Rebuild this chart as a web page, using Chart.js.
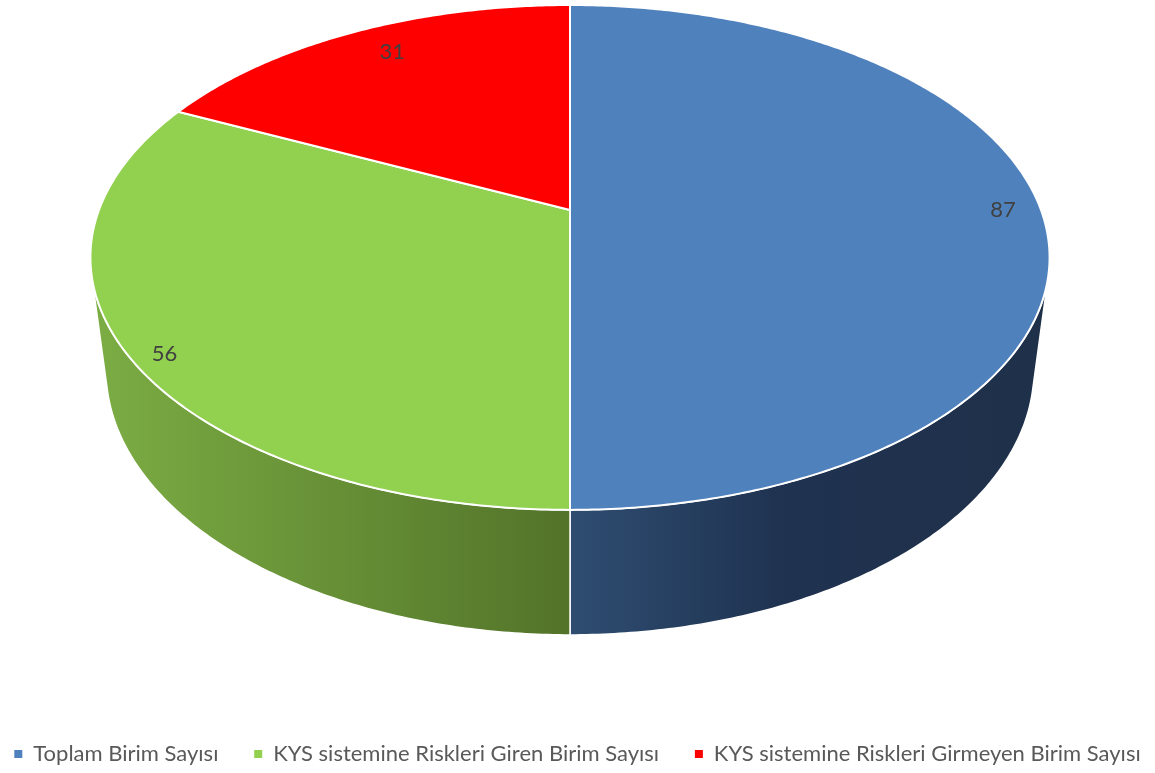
<!DOCTYPE html>
<html>
<head>
<meta charset="utf-8">
<script src="https://cdn.jsdelivr.net/npm/chart.js@4.4.1/dist/chart.umd.min.js"></script>
<style>
  html, body { margin: 0; padding: 0; background: #fff; overflow: hidden; }
  #wrap { width: 1155px; height: 775px; position: relative; }
</style>
</head>
<body>
<div id="wrap"><canvas id="pie"></canvas></div>
<script>
/* --- Données --- */
const categories = ['Toplam Birim Sayısı', 'KYS sistemine Riskleri Giren Birim Sayısı', 'KYS sistemine Riskleri Girmeyen Birim Sayısı'];
const values = [87, 56, 31];
const topColors = ['#4f81bd', '#92d050', '#ff0000'];
const wallStops = [
    [[0, '#2e4d71'], [0.45, '#1f3250'], [1, '#1f3049']],
    [[0, '#7cad44'], [1, '#527329']],
    [[0, '#b00000'], [1, '#800000']]
];

const FONT = 'Lato, "Open Sans", sans-serif';

/* --- Projection 3D (unités : rayon = 1) --- */
const TILT_SIN = 0.517, TILT_COS = 0.856;
const DIST = 4.554;          // distance caméra / rayon
const FOCAL = 2145;          // px
const DEPTH = 0.286;         // épaisseur du camembert
const TOP_OFFSET = 210;      // centre de la face supérieure, depuis le haut de la zone
const SHIFT_X = -7.5;        // décalage horizontal du camembert

function project(cx, cy, theta, r, depth) {
    const u = r * Math.sin(theta);
    const v = -r * Math.cos(theta);
    const z = DIST - v * TILT_COS + depth * TILT_SIN;
    const y = v * TILT_SIN + depth * TILT_COS;
    return { x: cx + FOCAL * u / z, y: cy + FOCAL * y / z };
}

function edgePath(ctx, cx, cy, a0, a1, r, depth, first) {
    const steps = Math.max(2, Math.ceil(Math.abs(a1 - a0) / 0.01));
    for (let i = 0; i <= steps; i++) {
        const p = project(cx, cy, a0 + (a1 - a0) * i / steps, r, depth);
        if (i === 0 && first) ctx.moveTo(p.x, p.y); else ctx.lineTo(p.x, p.y);
    }
}

const pie3d = {
    id: 'pie3d',
    beforeDatasetsDraw(chart) {
        const { ctx, chartArea } = chart;
        const arcs = chart.getDatasetMeta(0).data;
        const cx = arcs[0].x + SHIFT_X;
        const cy = chartArea.top + TOP_OFFSET;
        // partie visible de la paroi : cos(theta) < -1/(DIST*cos)
        const lim = Math.acos(-1 / (DIST * TILT_COS));
        const visFrom = lim, visTo = 2 * Math.PI - lim;

        ctx.save();
        ctx.lineJoin = 'round';

        // parois
        arcs.forEach((arc, i) => {
            const a0 = Math.max(arc.startAngle + Math.PI / 2, visFrom);
            const a1 = Math.min(arc.endAngle + Math.PI / 2, visTo);
            if (a1 <= a0) return;
            const pA = project(cx, cy, a0, 1, 0), pB = project(cx, cy, a1, 1, 0);
            const pC = project(cx, cy, a0, 1, DEPTH), pD = project(cx, cy, a1, 1, DEPTH);
            const xMin = Math.min(pA.x, pB.x, pC.x, pD.x), xMax = Math.max(pA.x, pB.x, pC.x, pD.x);
            const grad = ctx.createLinearGradient(xMin, 0, xMax, 0);
            wallStops[i].forEach(([o, c]) => grad.addColorStop(o, c));
            ctx.beginPath();
            edgePath(ctx, cx, cy, a0, a1, 1, 0, true);
            edgePath(ctx, cx, cy, a1, a0, 1, DEPTH, false);
            ctx.closePath();
            ctx.fillStyle = grad;
            ctx.fill();
            ctx.strokeStyle = '#ffffff';
            ctx.lineWidth = 1.5;
            ctx.stroke();
        });

        // faces supérieures
        arcs.forEach((arc, i) => {
            const a0 = arc.startAngle + Math.PI / 2, a1 = arc.endAngle + Math.PI / 2;
            ctx.beginPath();
            ctx.moveTo(cx, cy);
            edgePath(ctx, cx, cy, a0, a1, 1, 0, false);
            ctx.closePath();
            ctx.fillStyle = topColors[i];
            ctx.fill();
            ctx.strokeStyle = '#ffffff';
            ctx.lineWidth = 2;
            ctx.stroke();
        });

        // étiquettes de valeurs
        ctx.font = '22px ' + FONT;
        ctx.fillStyle = '#404040';
        ctx.textAlign = 'center';
        ctx.textBaseline = 'middle';
        arcs.forEach((arc, i) => {
            const mid = (arc.startAngle + arc.endAngle) / 2 + Math.PI / 2;
            const e = project(cx, cy, mid, 1, 0);
            const lx = e.x - 38 * Math.sign(Math.sin(mid));
            const ly = e.y + 24 * Math.max(0, Math.cos(mid));
            ctx.fillText(String(values[i]), lx, ly);
        });
        ctx.restore();
        return false;
    }
};

const pieLegendLabels = Chart.overrides.pie.plugins.legend.labels.generateLabels;

new Chart(document.getElementById('pie'), {
    type: 'pie',
    data: {
        labels: categories,
        datasets: [{ data: values, backgroundColor: topColors, borderWidth: 0 }]
    },
    options: {
        animation: false,
        responsive: true,
        maintainAspectRatio: false,
        plugins: {
            tooltip: { enabled: false },
            legend: {
                position: 'bottom',
                labels: {
                    boxWidth: 8,
                    boxHeight: 8,
                    padding: 0,
                    color: '#595959',
                    font: { family: FONT, size: 22 },
                    // espacement entre les entrées (évite le retour à la ligne)
                    generateLabels(chart) {
                        const items = pieLegendLabels(chart);
                        items.forEach((it, i) => {
                            it.lineWidth = 0;
                            if (i < items.length - 1) it.text = it.text + '\u2003\u2003\u2009';
                        });
                        return items;
                    }
                }
            }
        }
    },
    plugins: [pie3d]
});
</script>
</body>
</html>
